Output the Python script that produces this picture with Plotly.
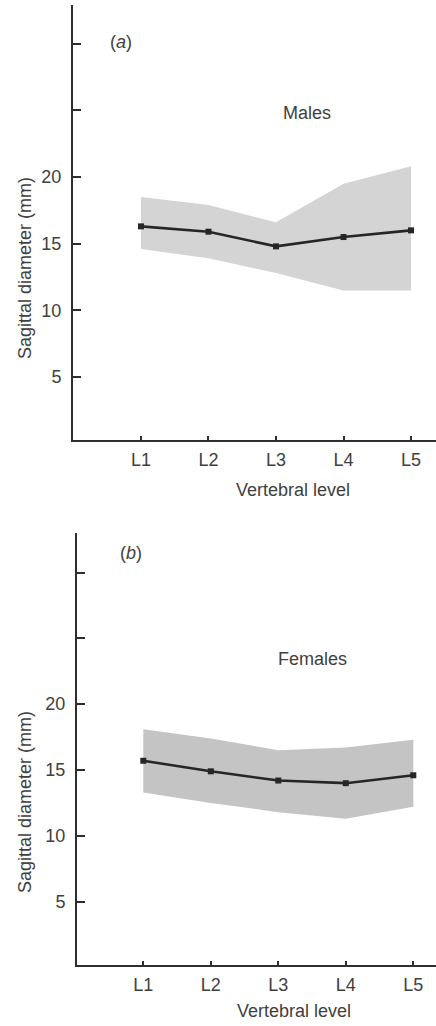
import plotly.graph_objects as go

W, H = 436, 1026

levels = ["L1", "L2", "L3", "L4", "L5"]
level_pos = [1, 2, 3, 4, 5]

male_mean = [16.3, 15.9, 14.8, 15.5, 16.0]
male_upper = [18.5, 17.9, 16.6, 19.5, 20.8]
male_lower = [14.6, 13.9, 12.8, 11.5, 11.5]

female_mean = [15.7, 14.9, 14.2, 14.0, 14.6]
female_upper = [18.1, 17.4, 16.5, 16.7, 17.3]
female_lower = [13.3, 12.5, 11.8, 11.3, 12.2]

y_tickvals = [5, 10, 15, 20, 25, 30]
y_ticktext = ["5", "10", "15", "20", "", ""]

FONT = "Liberation Sans, Arial, sans-serif"
TXT = "#404040"
LINE = "#262626"

fig = go.Figure()

def add_panel(xa, ya, lower, upper, mean, fillcol):
    fig.add_trace(go.Scatter(x=level_pos, y=lower, xaxis=xa, yaxis=ya, mode="lines",
                             line=dict(width=0, color=fillcol), showlegend=False, hoverinfo="skip"))
    fig.add_trace(go.Scatter(x=level_pos, y=upper, xaxis=xa, yaxis=ya, mode="lines",
                             line=dict(width=0, color=fillcol), fill="tonexty",
                             fillcolor=fillcol, showlegend=False, hoverinfo="skip"))
    fig.add_trace(go.Scatter(x=level_pos, y=mean, xaxis=xa, yaxis=ya, mode="lines+markers",
                             line=dict(width=2.6, color=LINE),
                             marker=dict(symbol="square", size=6, color=LINE),
                             showlegend=False))

add_panel("x", "y", male_lower, male_upper, male_mean, "#d4d4d4")
add_panel("x2", "y2", female_lower, female_upper, female_mean, "#c4c4c4")

def px_x(p):
    return p / W

def px_y(p):
    return 1 - p / H

axis_common = dict(showgrid=False, zeroline=False, showline=True, linecolor="#2e2e2e",
                   linewidth=2, ticks="inside", tickcolor="#2e2e2e",
                   tickfont=dict(family=FONT, size=18, color=TXT))

xa_common = dict(axis_common, tickvals=level_pos, ticktext=levels, ticklen=4, tickwidth=2,
                 ticklabelstandoff=2)
ya_common = dict(axis_common, tickvals=y_tickvals, ticktext=y_ticktext, ticklen=8, tickwidth=2,
                 ticklabelstandoff=6)

fig.update_layout(
    width=W, height=H,
    margin=dict(l=0, r=0, t=0, b=0),
    paper_bgcolor="white", plot_bgcolor="white",
    xaxis=dict(xa_common, domain=[px_x(73), 1], range=[-0.007, 5.37], anchor="y"),
    yaxis=dict(ya_common, domain=[px_y(440), px_y(5)], range=[0.28, 32.9], anchor="x"),
    xaxis2=dict(xa_common, domain=[px_x(77), 1], range=[0.018, 5.336], anchor="y2"),
    yaxis2=dict(ya_common, domain=[px_y(965), px_y(533)], range=[0.19, 33.0], anchor="x2"),
)

def ann(text, x, y, size=18, angle=0):
    fig.add_annotation(text=text, x=px_x(x), y=px_y(y), xref="paper", yref="paper",
                       showarrow=False, textangle=angle, xanchor="center", yanchor="middle",
                       font=dict(family=FONT, size=size, color=TXT))

ann("(<i>a</i>)", 121, 42, size=18)
ann("Males", 307, 113)
ann("Sagittal diameter (mm)", 25, 268, angle=-90)
ann("Vertebral level", 293, 490)

ann("(<i>b</i>)", 131, 553, size=18)
ann("Females", 312, 659)
ann("Sagittal diameter (mm)", 25, 802, angle=-90)
ann("Vertebral level", 294, 1011)

fig.write_html("out.html",
               config={"displayModeBar": False},
               post_script="document.body.style.margin='0';document.body.style.overflow='hidden';")
